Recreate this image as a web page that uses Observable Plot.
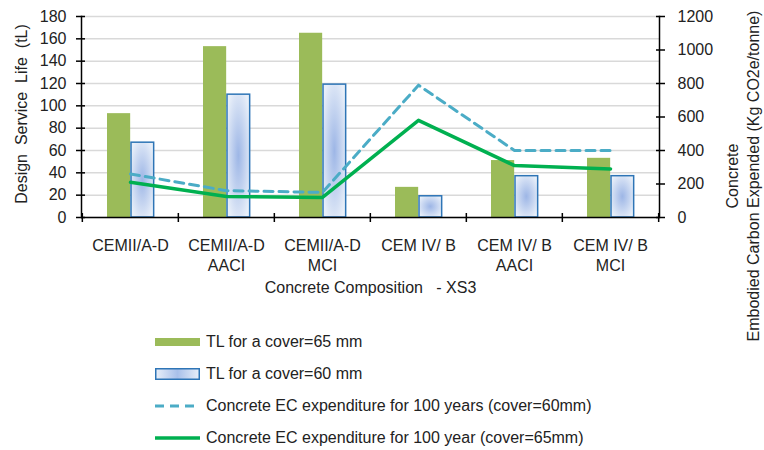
<!DOCTYPE html>
<html>
<head>
<meta charset="utf-8">
<script src="https://cdn.jsdelivr.net/npm/d3@7"></script>
<script src="https://cdn.jsdelivr.net/npm/@observablehq/plot@0.6"></script>
<style>
  body { margin: 0; background: #fff; font-family: "Liberation Sans", Arial, sans-serif; }
  #chart svg { overflow: visible; }
  .legend { padding-left: 155px; margin-top: 26px; color: #222; font-size: 16px; }
  .legend .row { height: 32px; display: flex; align-items: center; }
  .legend svg { margin-right: 6px; }
</style>
</head>
<body>
<div id="chart"></div>
<div class="legend" id="legend"></div>
<script>
const categories = ["CEMII/A-D", "CEMII/A-D AACI", "CEMII/A-D MCI", "CEM IV/ B", "CEM IV/ B AACI", "CEM IV/ B MCI"];
const tickLabels = ["CEMII/A-D", "CEMII/A-D\nAACI", "CEMII/A-D\nMCI", "CEM IV/ B", "CEM IV/ B\nAACI", "CEM IV/ B\nMCI"];
const tl65 = [93, 153, 165, 27, 51, 53];
const tl60 = [67, 110, 119, 19, 37, 37];
const ec60 = [260, 160, 150, 790, 400, 400];
const ec65 = [210, 125, 120, 580, 310, 290];
const leftTicks = [0, 20, 40, 60, 80, 100, 120, 140, 160, 180];
const rightTicks = [0, 200, 400, 600, 800, 1000, 1200];
const seriesNames = ["TL for a cover=65 mm", "TL for a cover=60 mm", "Concrete EC expenditure for 100 years (cover=60mm)", "Concrete EC expenditure for 100 year (cover=65mm)"];

const ratio = 180 / 1200;
const rows = categories.map((c, i) => ({cat: c, tl65: tl65[i], tl60: tl60[i], ec60: ec60[i] * ratio, ec65: ec65[i] * ratio}));
const labelOf = Object.fromEntries(categories.map((c, i) => [c, tickLabels[i]]));

const W = 764, H = 300, mL = 81, mR = 105, mT = 16, mB = 83;
const step = (W - mL - mR) / categories.length;
const green = "#9bbb59", blueStroke = "#2e75b6", dashBlue = "#4bacc6", lineGreen = "#00b050";

const chart = Plot.plot({
  width: W, height: H,
  marginLeft: mL, marginRight: mR, marginTop: mT, marginBottom: mB,
  style: {fontFamily: '"Liberation Sans", Arial, sans-serif', fontSize: "16px", color: "#222", overflow: "visible"},
  x: {type: "band", domain: categories, padding: 0, label: null},
  y: {domain: [0, 180], label: null},
  marks: [
    Plot.gridY(leftTicks, {stroke: "#d9d9d9", strokeOpacity: 1, strokeWidth: 1.5}),
    Plot.barY(rows, {x: "cat", y: "tl65", fill: green, insetLeft: 25, insetRight: step - 48.5}),
    Plot.barY(rows, {x: "cat", y: "tl60", fill: "url(#blueGrad)", stroke: blueStroke, strokeWidth: 1.5, insetLeft: 49, insetRight: step - 72}),
    Plot.lineY(rows, {x: "cat", y: "ec60", stroke: dashBlue, strokeWidth: 3, strokeDasharray: "9,6"}),
    Plot.lineY(rows, {x: "cat", y: "ec65", stroke: lineGreen, strokeWidth: 3.5}),
    Plot.ruleY([0], {stroke: "#000", strokeWidth: 1.5}),
    Plot.frame({anchor: "left", stroke: "#000", strokeWidth: 1.5}),
    Plot.frame({anchor: "right", stroke: "#000", strokeWidth: 1.5}),
    // left axis
    Plot.axisY(leftTicks, {tickSize: 9, dx: 4, tickFormat: () => "", label: null, stroke: "#000", strokeWidth: 1.5}),
    Plot.axisY(leftTicks, {tickSize: 0, tickPadding: 15, label: null, fontSize: 16}),
    // right axis
    Plot.axisY(rightTicks.map(d => d * ratio), {anchor: "right", tickSize: 9, dx: -4, tickFormat: () => "", label: null, stroke: "#000", strokeWidth: 1.5}),
    Plot.axisY(rightTicks.map(d => d * ratio), {anchor: "right", tickSize: 0, tickPadding: 18, label: null, tickFormat: d => String(Math.round(d / ratio)), fontSize: 16}),
    // x axis boundary ticks
    Plot.axisX(categories, {tickSize: 9, dy: -4, dx: -step / 2, tickFormat: () => "", label: null, stroke: "#000", strokeWidth: 1.5}),
    Plot.axisX([categories[categories.length - 1]], {tickSize: 9, dy: -4, dx: step / 2, tickFormat: () => "", label: null, stroke: "#000", strokeWidth: 1.5}),
    Plot.axisX(categories, {tickSize: 0, tickPadding: 19, label: null, tickFormat: d => labelOf[d], lineHeight: 1.25, fontSize: 16}),
    // titles
    Plot.text(["Concrete Composition   - XS3"], {frameAnchor: "bottom", dy: 75, fontSize: 16, fill: "#222"}),
    Plot.text(["Design  Service  Life  (tL)"], {frameAnchor: "left", textAnchor: "middle", dx: -60, dy: -3, rotate: -90, fontSize: 16, fill: "#222"}),
    Plot.text(["Concrete\nEmbodied Carbon Expended (Kg CO2e/tonne)"], {frameAnchor: "right", textAnchor: "middle", dx: 82, dy: 59, rotate: -90, fontSize: 16, lineHeight: 1.3, fill: "#222"})
  ]
});

// gradient for the 60 mm bars
const svgNS = "http://www.w3.org/2000/svg";
const defs = document.createElementNS(svgNS, "defs");
const grad = document.createElementNS(svgNS, "radialGradient");
grad.setAttribute("id", "blueGrad");
grad.setAttribute("cx", "0.5"); grad.setAttribute("cy", "0.5"); grad.setAttribute("r", "0.6");
[["0%", "#9db6e6"], ["100%", "#e8eff9"]].forEach(([o, c]) => {
  const s = document.createElementNS(svgNS, "stop");
  s.setAttribute("offset", o); s.setAttribute("stop-color", c);
  grad.appendChild(s);
});
defs.appendChild(grad);
chart.insertBefore(defs, chart.firstChild);
document.getElementById("chart").appendChild(chart);

// legend
const swatches = [
  `<svg width="45" height="10"><rect x="0" y="1" width="45" height="8" fill="${green}"/></svg>`,
  `<svg width="45" height="12"><defs><linearGradient id="lg" x1="0" x2="1"><stop offset="0" stop-color="#e8eff9"/><stop offset="0.5" stop-color="#a9c0ea"/><stop offset="1" stop-color="#e8eff9"/></linearGradient></defs><rect x="0.75" y="0.75" width="43.5" height="10.5" fill="url(#lg)" stroke="${blueStroke}" stroke-width="1.5"/></svg>`,
  `<svg width="45" height="6"><line x1="0" x2="45" y1="3" y2="3" stroke="${dashBlue}" stroke-width="3" stroke-dasharray="9,6"/></svg>`,
  `<svg width="45" height="6"><line x1="0" x2="45" y1="3" y2="3" stroke="${lineGreen}" stroke-width="3.5"/></svg>`
];
document.getElementById("legend").innerHTML = seriesNames.map((n, i) => `<div class="row">${swatches[i]}<span>${n}</span></div>`).join("");
</script>
</body>
</html>
